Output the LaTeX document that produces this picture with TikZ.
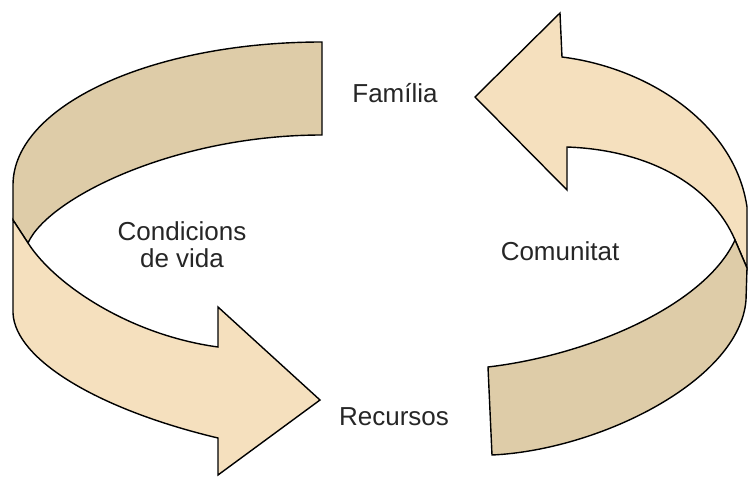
\documentclass[tikz,border=0pt]{standalone}
\usepackage{fontspec}
\setmainfont{Liberation Sans}
\definecolor{backtan}{RGB}{222,204,168}
\definecolor{fronttan}{RGB}{245,224,190}
\begin{document}
\begin{tikzpicture}[x=1pt,y=-1pt,
  ribbon/.style={draw=black,line width=1.4pt,line join=miter},
  backside/.style={ribbon,fill=backtan},
  frontside/.style={ribbon,fill=fronttan},
  label/.style={font=\fontsize{26}{27}\selectfont,text=black!85,anchor=base,align=center,inner sep=0pt}]
\useasboundingbox (0,0) rectangle (748,477);

% left ribbon: far side (top, seen from inside)
\draw[backside] (322,42) .. controls (151,42) and (13,106) .. (13,185)
  -- (13,220) -- (28,243)
  .. controls (48,198) and (175,135) .. (322,135) -- cycle;
% left ribbon: near side with the arrow head
\draw[frontside] (13,220) -- (13,313)
  .. controls (15,360) and (100,410) .. (218,438)
  -- (218,475) -- (320,400) -- (218,307) -- (218,347)
  .. controls (130,335) and (55,285) .. (28,243) -- cycle;

% right ribbon: near side with the arrow head
\draw[frontside] (475,97) -- (560,13) -- (562,57)
  .. controls (650,68) and (735,125) .. (747,207)
  -- (747,268) -- (735,240)
  .. controls (712,186) and (650,150) .. (567,147)
  -- (567,190) -- cycle;
% right ribbon: far side (bottom)
\draw[backside] (735,240) -- (747,268) -- (746,300)
  .. controls (740,380) and (600,450) .. (492,455)
  -- (488,367)
  .. controls (590,355) and (705,305) .. cycle;

% labels (a multi-line node sits on the baseline of its last line)
\node[label] (familia) at (395,102) {Família};
\node[label] (recursos) at (394,425) {Recursos};
\node[label] (condicions) at (182,267) {Condicions\\de vida};
\node[label] (comunitat) at (560,260) {Comunitat};
\end{tikzpicture}
\end{document}
